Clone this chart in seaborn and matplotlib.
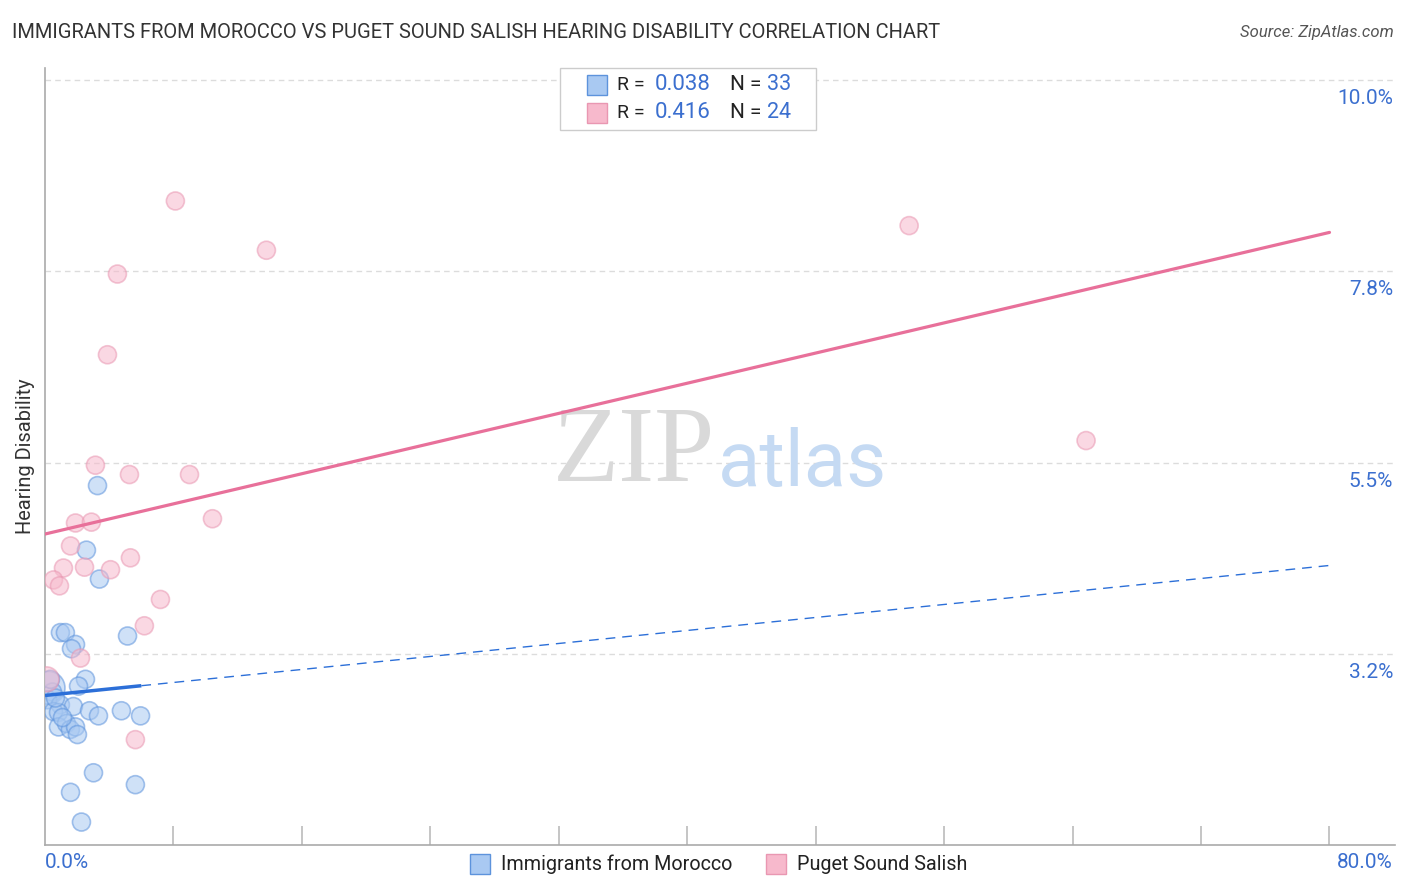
import numpy as np
import pandas as pd
import seaborn as sns
import matplotlib.pyplot as plt
from matplotlib.patches import Rectangle
from matplotlib.transforms import ScaledTranslation, blended_transform_factory

# Immigrants from Morocco (blue)
morocco_x = [3.27, 2.58, 3.39, 0.96, 1.27, 1.90, 1.65, 5.14, 2.52, 2.09, 0.22, 0.47, 0.16,
             0.96, 1.77, 0.53, 0.84, 2.77, 3.33, 4.76, 5.95, 0.84, 1.34, 1.58, 1.90, 2.02,
             3.02, 5.63, 1.59, 2.27, 0.34, 0.65, 1.09]
morocco_y = [5.23, 4.47, 4.13, 3.50, 3.50, 3.36, 3.31, 3.46, 2.95, 2.87, 2.85, 2.80, 2.71,
             2.65, 2.63, 2.57, 2.56, 2.58, 2.52, 2.58, 2.52, 2.39, 2.43, 2.36, 2.39, 2.30,
             1.85, 1.71, 1.62, 1.27, 2.95, 2.73, 2.50]
morocco_s = [168] * 33
morocco_s[10] = 560

# Puget Sound Salish (pink)
salish_x = [8.12, 13.79, 53.82, 4.51, 3.89, 3.14, 5.26, 9.00, 64.84, 1.90, 2.89, 10.43,
            1.59, 5.32, 1.15, 2.46, 4.08, 0.53, 0.90, 7.19, 6.19, 2.21, 5.63, 0.10]
salish_y = [8.58, 8.00, 8.29, 7.72, 6.77, 5.47, 5.36, 5.36, 5.76, 4.79, 4.80, 4.84,
            4.52, 4.38, 4.26, 4.27, 4.24, 4.12, 4.05, 3.89, 3.58, 3.20, 2.24, 2.95]
salish_s = [168] * 24
salish_s[23] = 320

# trend lines (value at x=0 and x=80)
morocco_trend = [2.76, 4.29]
morocco_solid_end = 6.0
salish_trend = [4.66, 8.21]

y_ticks = [3.25, 5.5, 7.75, 10.0]
y_tick_labels = ['3.2%', '5.5%', '7.8%', '10.0%']

BLUE_FILL = '#a9c9f2'
BLUE_EDGE = '#5d93dc'
BLUE_LINE = '#2c6fd8'
PINK_FILL = '#f7b9cc'
PINK_EDGE = '#e997b2'
PINK_LINE = '#e8709a'
LABEL_BLUE = '#3b6fcf'

sns.set_style('white')
plt.rcParams['font.family'] = ['Roboto', 'DejaVu Sans']

W, H = 1406, 892
fig = plt.figure(figsize=(W / 100, H / 100), dpi=100)
ax = fig.add_axes([45 / W, 1 - 845 / H, (1395 - 45) / W, (845 - 68) / H])

df_m = pd.DataFrame({'x': morocco_x, 'y': morocco_y})
df_s = pd.DataFrame({'x': salish_x, 'y': salish_y})

sns.scatterplot(data=df_m, x='x', y='y', s=morocco_s, color=BLUE_FILL, edgecolor=BLUE_EDGE,
                linewidth=1.2, alpha=0.55, ax=ax, zorder=3)
sns.scatterplot(data=df_s, x='x', y='y', s=salish_s, color=PINK_FILL, edgecolor=PINK_EDGE,
                linewidth=1.2, alpha=0.55, ax=ax, zorder=3)

# trend lines
xs = np.array([0, 80])
ax.plot(xs, salish_trend, color=PINK_LINE, lw=2.3, zorder=4)
slope_m = (morocco_trend[1] - morocco_trend[0]) / 80
ax.plot([0, morocco_solid_end], [morocco_trend[0], morocco_trend[0] + slope_m * morocco_solid_end],
        color=BLUE_LINE, lw=2.5, zorder=4, solid_capstyle='butt')
ax.plot([morocco_solid_end, 80], [morocco_trend[0] + slope_m * morocco_solid_end, morocco_trend[1]],
        color=BLUE_LINE, lw=1.0, ls=(0, (7, 5)), zorder=4)

ax.set_xlim(0, 84.08)
ax.set_ylim(1.0, 10.145)

# grid / spines
ax.set_yticks(y_ticks)
ax.set_yticklabels([])
ax.yaxis.grid(True, color='#dcdcdc', ls=(0, (4, 3)), lw=1.0)
ax.xaxis.grid(False)
ax.set_xticks(np.arange(8, 81, 8))
ax.set_xticklabels([])
ax.tick_params(axis='x', direction='in', length=13.5, color='#bbbbbb', width=1.2, bottom=True)
ax.tick_params(axis='y', length=0)
for side in ['top', 'right']:
    ax.spines[side].set_visible(False)
for side in ['left', 'bottom']:
    ax.spines[side].set_color('#aaaaaa')
    ax.spines[side].set_linewidth(1.2)
ax.set_xlabel('')
ax.set_ylabel('Hearing Disability', fontsize=14.4, color='#333333', labelpad=4)

# y tick labels inside on the right, just below each grid line
tr = blended_transform_factory(ax.transAxes, ax.transData)
off = ScaledTranslation(0, -0.185, fig.dpi_scale_trans)
for v, lab in zip(y_ticks, y_tick_labels):
    ax.text(0.9985, v, lab, transform=tr + off, ha='right', va='center',
            fontsize=15, color=LABEL_BLUE)

fig.text(45 / W, 1 - 862 / H, '0.0%', ha='left', va='center', fontsize=15, color=LABEL_BLUE)
fig.text(1393 / W, 1 - 862 / H, '80.0%', ha='right', va='center', fontsize=15, color=LABEL_BLUE)

# watermark
ax.text(0.436, 0.502, 'ZIP', transform=ax.transAxes, ha='center', va='center',
        fontsize=78, color='#d9d9d9', family='Liberation Serif', zorder=1)
ax.text(0.561, 0.49, 'atlas', transform=ax.transAxes, ha='center', va='center',
        fontsize=56, color='#c5daf3', zorder=1)

# title and source
fig.text(12 / W, 1 - 33 / H, 'IMMIGRANTS FROM MOROCCO VS PUGET SOUND SALISH HEARING DISABILITY CORRELATION CHART',
         ha='left', va='center', fontsize=14.5, color='#333333')
fig.text(1394 / W, 1 - 33 / H, 'Source: ZipAtlas.com', ha='right', va='center', fontsize=12,
         color='#555555', style='italic')

# top legend box
fig.patches.append(Rectangle((560 / W, 1 - 130 / H), 256 / W, 62 / H, transform=fig.transFigure,
                             facecolor='white', edgecolor='#cccccc', lw=1.0, zorder=5))
rows = [(85, BLUE_FILL, BLUE_EDGE, '0.038', '33'), (113, PINK_FILL, PINK_EDGE, '0.416', '24')]
for py, fc, ec, r, n in rows:
    fig.patches.append(Rectangle((587 / W, 1 - (py + 10) / H), 20 / W, 20 / H,
                                 transform=fig.transFigure, facecolor=fc, edgecolor=ec,
                                 lw=1.0, zorder=6))
    fig.text(617 / W, 1 - py / H, 'R = ', ha='left', va='center', fontsize=14, color='#222222', zorder=7)
    fig.text(711 / W, 1 - py / H, r, ha='right', va='center', fontsize=16, color=LABEL_BLUE, zorder=7)
    fig.text(730 / W, 1 - py / H, 'N = ', ha='left', va='center', fontsize=15, color='#222222', zorder=7)
    fig.text(767 / W, 1 - py / H, n, ha='left', va='center', fontsize=15.5, color=LABEL_BLUE, zorder=7)

# bottom legend
for px, fc, ec, lab in [(470, BLUE_FILL, BLUE_EDGE, 'Immigrants from Morocco'),
                        (766, PINK_FILL, PINK_EDGE, 'Puget Sound Salish')]:
    fig.patches.append(Rectangle((px / W, 1 - 874 / H), 20 / W, 20 / H, transform=fig.transFigure,
                                 facecolor=fc, edgecolor=ec, lw=1.0))
    fig.text((px + 31) / W, 1 - 864 / H, lab, ha='left', va='center', fontsize=14.2, color='#222222')

fig.savefig('out.png', dpi=100)
